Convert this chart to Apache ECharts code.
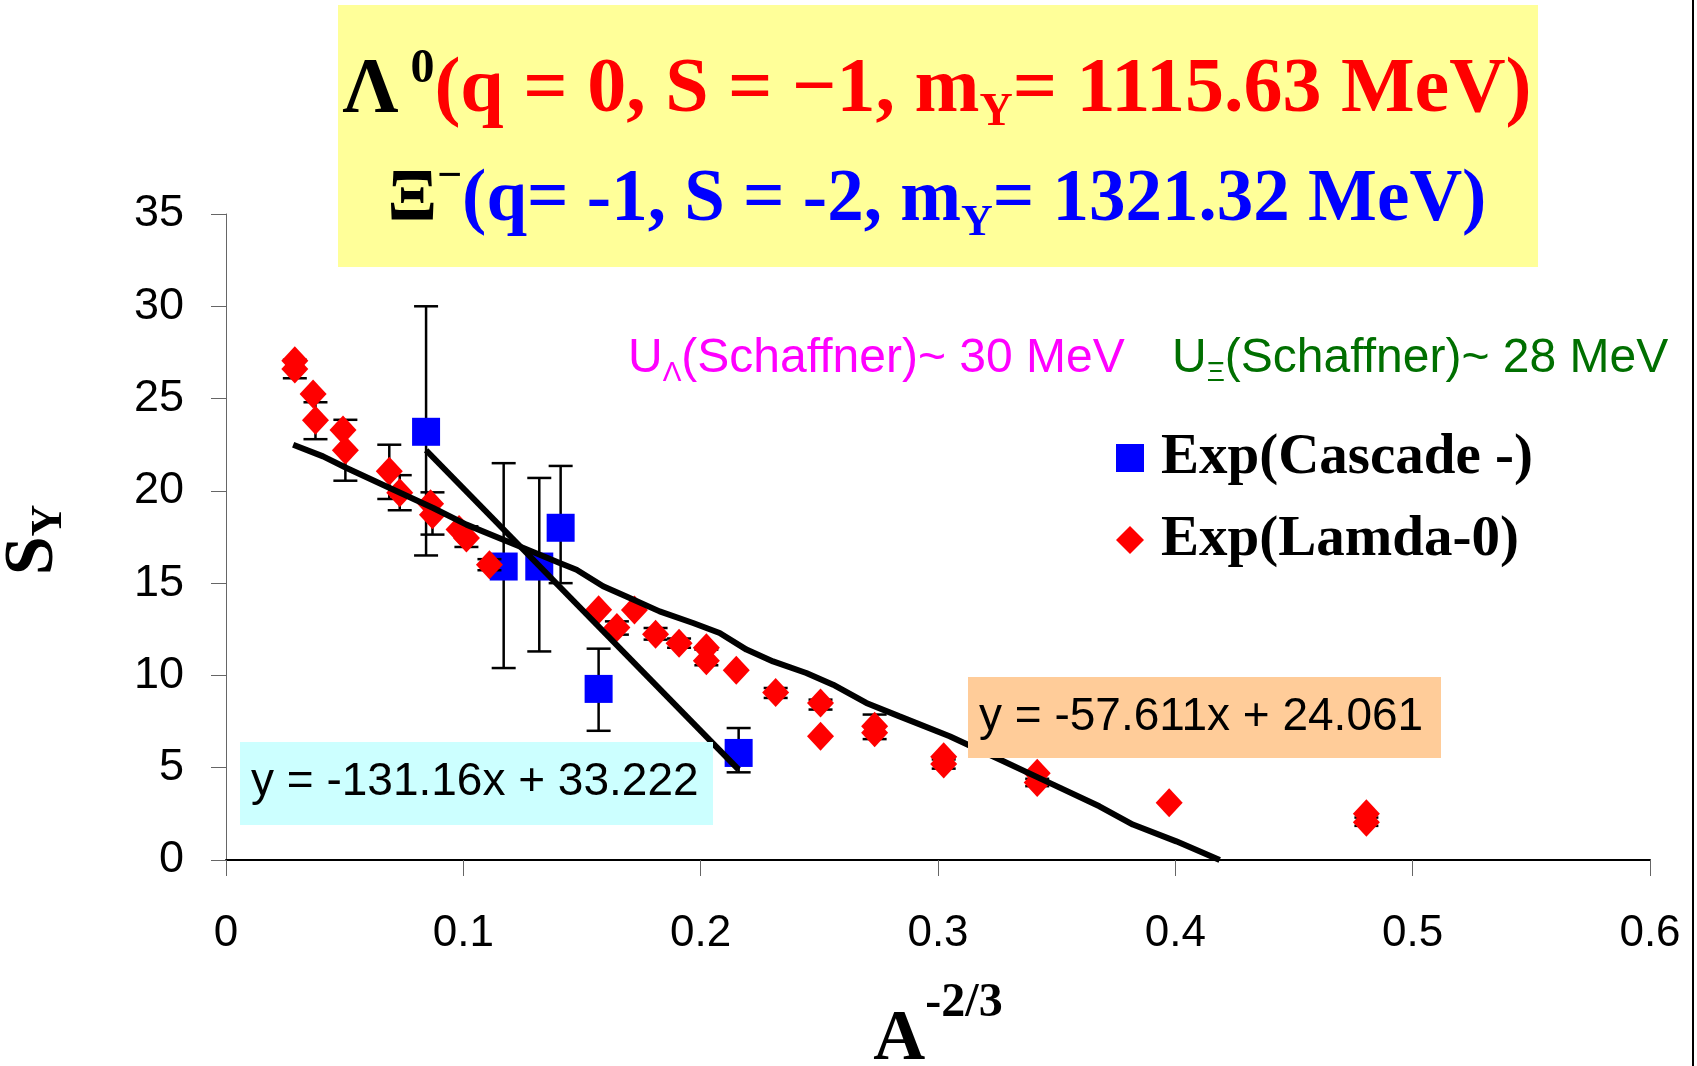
<!DOCTYPE html>
<html>
<head>
<meta charset="utf-8">
<title>S_Y vs A^-2/3</title>
<script src="https://cdn.jsdelivr.net/npm/echarts@6/dist/echarts.min.js"></script>
<style>
  html, body { margin: 0; padding: 0; background: #fff; }
  #chart { width: 1697px; height: 1066px; }
</style>
</head>
<body>
<div id="chart"></div>
<script>
// Exp(Cascade -) : A^-2/3, S_Y, error bar ends
var cascadeX = [0.0843, 0.117, 0.132, 0.141, 0.157, 0.216]
var cascadeY = [23.2, 15.9, 15.9, 18.0, 9.27, 5.8]
var cascadeLow = [16.5, 10.4, 11.3, 15.0, 7.0, 4.75]
var cascadeHigh = [30.0, 21.5, 20.7, 21.35, 11.45, 7.15]

// Exp(Lamda-0) : A^-2/3, S_Y, error bar ends (null = no bar visible)
var lambdaX = [0.029, 0.029, 0.0367, 0.0377, 0.0493, 0.0503, 0.0688, 0.0732, 0.0862, 0.087,
  0.0982, 0.1013, 0.111, 0.157, 0.1647, 0.1721, 0.181, 0.1909, 0.2024, 0.2024,
  0.215, 0.2316, 0.2505, 0.2505, 0.2733, 0.2733, 0.3024, 0.3024, 0.3418, 0.3418,
  0.3974, 0.4805, 0.4805]
var lambdaY = [27.05, 26.6, 25.25, 23.82, 23.3, 22.2, 21.06, 19.9, 19.3, 18.7,
  17.9, 17.45, 16.0, 13.56, 12.6, 13.55, 12.23, 11.75, 11.5, 10.8,
  10.28, 9.07, 8.5, 6.7, 7.25, 6.9, 5.6, 5.2, 4.7, 4.2,
  3.1, 2.5, 2.05]
var lambdaLow = [null, 26.1, null, 22.8, null, 20.55, 19.56, 18.95, null, 17.63,
  null, 16.96, 15.7, null, 12.21, null, 11.94, 11.5, null, 10.55,
  null, 8.78, 8.15, null, 6.55, null, null, 4.95, null, 4.0,
  null, null, 1.85]
var lambdaHigh = [null, 27.1, null, 24.8, null, 23.85, 22.5, 20.85, null, 19.92,
  null, 18.08, 16.3, null, 12.93, null, 12.57, 12.0, null, 11.4,
  null, 9.32, 8.69, null, 7.88, null, null, 5.45, null, 4.4,
  null, null, 2.3]

// black curve through the Lamda-0 points
var curveX = [0.0283, 0.0409, 0.0508, 0.069, 0.0873, 0.1013, 0.1238, 0.1406, 0.1477, 0.1589,
  0.1687, 0.1827, 0.1968, 0.208, 0.2193, 0.2305, 0.2445, 0.2558, 0.2698, 0.2838,
  0.3049, 0.326, 0.347, 0.368, 0.3821, 0.4004, 0.4187]
var curveY = [22.5, 21.87, 21.24, 20.16, 19.07, 18.17, 16.99, 16.09, 15.73, 14.83,
  14.28, 13.47, 12.84, 12.3, 11.4, 10.76, 10.13, 9.5, 8.51, 7.78,
  6.7, 5.44, 4.18, 2.91, 1.92, 1.01, 0]

// straight fit line through the Cascade points
var fitX = [0.0843, 0.216]
var fitY = [22.2, 4.9]

var xTicks = [0, 0.1, 0.2, 0.3, 0.4, 0.5, 0.6]
var yTicks = [0, 5, 10, 15, 20, 25, 30, 35]

var serif = 'Liberation Serif'
var sans = 'Liberation Sans'

function zip(xs, ys) {
  return xs.map(function (x, i) { return [x, ys[i]] })
}

function bars(xs, lows, highs) {
  var out = []
  xs.forEach(function (x, i) {
    if (lows[i] != null) out.push([x, lows[i], highs[i]])
  })
  return out
}

function errorBarItem(params, api) {
  var x = api.value(0)
  var lo = api.coord([x, api.value(1)])
  var hi = api.coord([x, api.value(2)])
  var w = 12
  var style = { stroke: '#000', lineWidth: 2.5 }
  return {
    type: 'group',
    children: [
      { type: 'line', shape: { x1: lo[0], y1: lo[1], x2: hi[0], y2: hi[1] }, style: style },
      { type: 'line', shape: { x1: lo[0] - w, y1: lo[1], x2: lo[0] + w, y2: lo[1] }, style: style },
      { type: 'line', shape: { x1: hi[0] - w, y1: hi[1], x2: hi[0] + w, y2: hi[1] }, style: style }
    ]
  }
}

var chart = echarts.init(document.getElementById('chart'))

chart.setOption({
  animation: false,
  backgroundColor: '#fff',
  grid: { left: 226, right: 47, top: 214, bottom: 206 },
  xAxis: {
    type: 'value',
    min: xTicks[0],
    max: xTicks[xTicks.length - 1],
    interval: 0.1,
    splitLine: { show: false },
    axisLine: { show: true, onZero: false, lineStyle: { color: '#000', width: 2 } },
    axisTick: { show: true, length: 16, lineStyle: { color: '#666', width: 1 } },
    axisLabel: { margin: 52, fontFamily: sans, fontSize: 44, color: '#000' }
  },
  yAxis: {
    type: 'value',
    min: yTicks[0],
    max: yTicks[yTicks.length - 1],
    interval: 5,
    splitLine: { show: false },
    axisLine: { show: true, lineStyle: { color: '#666', width: 1 } },
    axisTick: { show: true, length: 15, lineStyle: { color: '#666', width: 1 } },
    axisLabel: { margin: 42, fontFamily: sans, fontSize: 45, color: '#000' }
  },
  legend: {
    orient: 'vertical',
    left: 1116,
    top: 428,
    padding: 0,
    itemWidth: 28,
    itemHeight: 28,
    itemGap: 22,
    textStyle: { fontFamily: serif, fontWeight: 'bold', fontSize: 57, lineHeight: 60, color: '#000', padding: [0, 0, 0, 12] },
    data: [
      { name: 'Exp(Cascade -)', icon: 'rect', itemStyle: { color: '#0000ff' } },
      { name: 'Exp(Lamda-0)', icon: 'diamond', itemStyle: { color: '#ff0000' } }
    ]
  },
  series: [
    {
      type: 'custom',
      name: 'cascade err',
      renderItem: errorBarItem,
      encode: { x: 0, y: [1, 2] },
      data: bars(cascadeX, cascadeLow, cascadeHigh),
      z: 2
    },
    {
      type: 'scatter',
      name: 'Exp(Cascade -)',
      symbol: 'rect',
      symbolSize: 28,
      itemStyle: { color: '#0000ff', opacity: 1 },
      data: zip(cascadeX, cascadeY),
      z: 3
    },
    {
      type: 'custom',
      name: 'lambda err',
      renderItem: errorBarItem,
      encode: { x: 0, y: [1, 2] },
      data: bars(lambdaX, lambdaLow, lambdaHigh),
      z: 4
    },
    {
      type: 'scatter',
      name: 'Exp(Lamda-0)',
      symbol: 'diamond',
      symbolSize: [27, 29],
      itemStyle: { color: '#ff0000', opacity: 1 },
      data: zip(lambdaX, lambdaY),
      z: 5
    },
    {
      type: 'line',
      name: 'curve',
      showSymbol: false,
      symbol: 'none',
      lineStyle: { color: '#000', width: 6 },
      data: zip(curveX, curveY),
      z: 6
    },
    {
      type: 'line',
      name: 'fit',
      showSymbol: false,
      symbol: 'none',
      lineStyle: { color: '#000', width: 6 },
      data: zip(fitX, fitY),
      z: 6
    }
  ],
  graphic: [
    // title box
    { type: 'rect', shape: { x: 338, y: 5, width: 1200, height: 262 }, style: { fill: '#ffff99' }, z: 10 },
    {
      type: 'text', x: 937, y: 91, z: 11,
      style: {
        text: '{k|Λ}{ks| 0}{r|(q = 0, S = −1, m}{rs|Y}{r|= 1115.63 MeV)}',
        align: 'center', verticalAlign: 'middle',
        rich: {
          k: { fontFamily: serif, fontWeight: 'bold', fontSize: 78, lineHeight: 90, fill: '#000' },
          ks: { fontFamily: serif, fontWeight: 'bold', fontSize: 48, lineHeight: 22, verticalAlign: 'top', fill: '#000' },
          r: { fontFamily: serif, fontWeight: 'bold', fontSize: 78, lineHeight: 90, fill: '#ff0000' },
          rs: { fontFamily: serif, fontWeight: 'bold', fontSize: 46, lineHeight: 58, verticalAlign: 'bottom', fill: '#ff0000' }
        }
      }
    },
    {
      type: 'text', x: 937, y: 201, z: 11,
      style: {
        text: '{k|Ξ}{ks|−}{b|(q= -1, S = -2, m}{bs|Y}{b|= 1321.32 MeV)}',
        align: 'center', verticalAlign: 'middle',
        rich: {
          k: { fontFamily: serif, fontWeight: 'bold', fontSize: 73, lineHeight: 90, fill: '#000' },
          ks: { fontFamily: serif, fontWeight: 'bold', fontSize: 44, lineHeight: 30, verticalAlign: 'top', fill: '#000' },
          b: { fontFamily: serif, fontWeight: 'bold', fontSize: 73, lineHeight: 90, fill: '#0000ff' },
          bs: { fontFamily: serif, fontWeight: 'bold', fontSize: 44, lineHeight: 56, verticalAlign: 'bottom', fill: '#0000ff' }
        }
      }
    },
    // potential depth notes
    {
      type: 'text', x: 628, y: 359, z: 11,
      style: {
        text: '{u|U}{s|Λ}{u|(Schaffner)~ 30 MeV}',
        align: 'left', verticalAlign: 'middle',
        rich: {
          u: { fontFamily: sans, fontSize: 48, lineHeight: 56, fill: '#ff00ff' },
          s: { fontFamily: sans, fontSize: 28, lineHeight: 15, verticalAlign: 'bottom', fill: '#ff00ff' }
        }
      }
    },
    {
      type: 'text', x: 1172, y: 359, z: 11,
      style: {
        text: '{u|U}{s|Ξ}{u|(Schaffner)~ 28 MeV}',
        align: 'left', verticalAlign: 'middle',
        rich: {
          u: { fontFamily: sans, fontSize: 48, lineHeight: 56, fill: '#006f00' },
          s: { fontFamily: sans, fontSize: 28, lineHeight: 15, verticalAlign: 'bottom', fill: '#006f00' }
        }
      }
    },
    // fit equations
    { type: 'rect', shape: { x: 240, y: 742, width: 473, height: 83 }, style: { fill: '#ccffff' }, z: 10 },
    {
      type: 'text', x: 251, y: 782, z: 11,
      style: { text: 'y = -131.16x + 33.222', fontFamily: sans, fontSize: 46, fill: '#000', align: 'left', verticalAlign: 'middle' }
    },
    { type: 'rect', shape: { x: 968, y: 677, width: 473, height: 81 }, style: { fill: '#ffcc99' }, z: 10 },
    {
      type: 'text', x: 979, y: 717, z: 11,
      style: { text: 'y = -57.611x + 24.061', fontFamily: sans, fontSize: 46, fill: '#000', align: 'left', verticalAlign: 'middle' }
    },
    // axis names
    {
      type: 'text', x: 34, y: 540, rotation: Math.PI / 2, z: 11,
      style: {
        text: '{m|S}{s|Y}',
        align: 'center', verticalAlign: 'middle',
        rich: {
          m: { fontFamily: serif, fontWeight: 'bold', fontSize: 70, lineHeight: 76, fill: '#000' },
          s: { fontFamily: serif, fontWeight: 'bold', fontSize: 44, lineHeight: 30, verticalAlign: 'bottom', fill: '#000' }
        }
      }
    },
    {
      type: 'text', x: 938, y: 1040, z: 11,
      style: {
        text: '{m|A}{s|-2/3}',
        align: 'center', verticalAlign: 'middle',
        rich: {
          m: { fontFamily: serif, fontWeight: 'bold', fontSize: 72, lineHeight: 120, fill: '#000' },
          s: { fontFamily: serif, fontWeight: 'bold', fontSize: 48, lineHeight: 30, verticalAlign: 'top', fill: '#000' }
        }
      }
    },
    // frame edge on the right
    { type: 'line', shape: { x1: 1693, y1: 0, x2: 1693, y2: 1066 }, style: { stroke: '#000', lineWidth: 2 }, z: 10 }
  ]
})
</script>
</body>
</html>
